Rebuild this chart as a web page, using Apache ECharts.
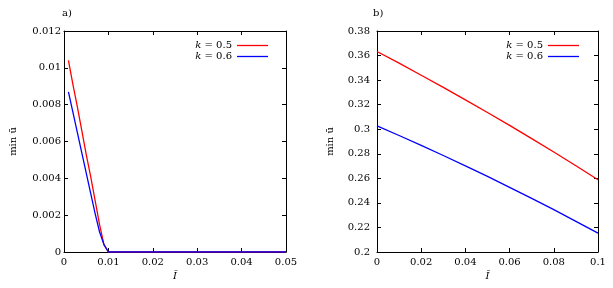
<!DOCTYPE html>
<html><head><meta charset="utf-8">
<script src="https://cdn.jsdelivr.net/npm/echarts@6/dist/echarts.min.js"></script>
<style>html,body{margin:0;padding:0;background:#fff}#c{width:613px;height:288px}</style>
</head><body><div id="c"></div>
<script>
// ---- data ----
const seriesNames = ['k = 0.5', 'k = 0.6'];
const panelLabels = ['a)', 'b)'];
const xAxisName = 'Ī';
const yAxisName = 'min ū';

const leftX    = [0.001, 0.002, 0.003, 0.004, 0.005, 0.006, 0.007, 0.008, 0.009, 0.010, 0.02, 0.03, 0.04, 0.05];
const leftRed  = [0.0104, 0.0091, 0.0079, 0.0066, 0.0053, 0.0041, 0.0028, 0.0015, 0.0004, 0.0, 0, 0, 0, 0];
const leftBlue = [0.0087, 0.0076, 0.0065, 0.0054, 0.0043, 0.0032, 0.0021, 0.0011, 0.0004, 0.0, 0, 0, 0, 0];

const rightX    = [0, 0.01, 0.02, 0.03, 0.04, 0.05, 0.06, 0.07, 0.08, 0.09, 0.10];
const rightRed  = [0.3633, 0.3538, 0.3440, 0.3341, 0.3239, 0.3136, 0.3031, 0.2923, 0.2814, 0.2702, 0.2589];
const rightBlue = [0.3027, 0.2949, 0.2868, 0.2786, 0.2702, 0.2616, 0.2527, 0.2437, 0.2345, 0.2250, 0.2154];

const leftXTicks  = ['0', '0.01', '0.02', '0.03', '0.04', '0.05'];
const leftYTicks  = ['0', '0.002', '0.004', '0.006', '0.008', '0.01', '0.012'];
const rightXTicks = ['0', '0.02', '0.04', '0.06', '0.08', '0.1'];
const rightYTicks = ['0.2', '0.22', '0.24', '0.26', '0.28', '0.3', '0.32', '0.34', '0.36', '0.38'];

// ---- chart ----
const FONT = 'DejaVu Serif';
const pairs = (xs, ys) => xs.map((x, i) => [x, ys[i]]);

function axis(type, grid, pos, min, max, interval, labels, margin, name, nameGap) {
  const a = {
    type: 'value', gridIndex: grid, position: pos, min: min, max: max, interval: interval,
    axisLine: { show: true, onZero: false, lineStyle: { color: '#000', width: 1 } },
    axisTick: { show: true, inside: true, length: 4, lineStyle: { color: '#000', width: 1 } },
    splitLine: { show: false },
    axisLabel: { show: !!labels, margin: margin, color: '#000', fontFamily: FONT, fontSize: 10,
      formatter: labels ? (v, i) => labels[i] : undefined }
  };
  if (name) {
    a.name = name; a.nameLocation = 'middle'; a.nameGap = nameGap;
    a.nameTextStyle = { fontFamily: FONT, fontSize: 10, color: '#000', fontStyle: type === 'x' ? 'italic' : 'normal' };
    if (type === 'y') a.nameRotate = 90;
  }
  return a;
}

const chart = echarts.init(document.getElementById('c'), null, { renderer: 'canvas' });
const legendBase = {
  orient: 'vertical', align: 'right', itemWidth: 31, itemHeight: 11, itemGap: 0,
  icon: 'path://M0,0 L31,0 L31,1.3 L0,1.3 Z',
  data: seriesNames,
  formatter: n => n.replace('k', '{i|k}'),
  textStyle: { fontFamily: FONT, fontSize: 10, color: '#000', lineHeight: 11,
    rich: { i: { fontStyle: 'italic', fontFamily: FONT, fontSize: 10 } } }
};
const lineSeries = (name, xi, yi, data, color) => ({
  name: name, type: 'line', xAxisIndex: xi, yAxisIndex: yi, data: data,
  symbol: 'none', showSymbol: false, animation: false,
  lineStyle: { color: color, width: 1.3 }, itemStyle: { color: color }
});

chart.setOption({
  animation: false,
  grid: [
    { left: 64, top: 31, width: 222, height: 221 },
    { left: 377, top: 31, width: 221, height: 221 }
  ],
  xAxis: [
    axis('x', 0, 'bottom', 0, 0.05, 0.01, leftXTicks, 5, xAxisName, 18),
    axis('x', 0, 'top', 0, 0.05, 0.01, null, 0),
    axis('x', 1, 'bottom', 0, 0.1, 0.02, rightXTicks, 5, xAxisName, 18),
    axis('x', 1, 'top', 0, 0.1, 0.02, null, 0)
  ],
  yAxis: [
    axis('y', 0, 'left', 0, 0.012, 0.002, leftYTicks, 3, yAxisName, 46),
    axis('y', 0, 'right', 0, 0.012, 0.002, null, 0),
    axis('y', 1, 'left', 0.2, 0.38, 0.02, rightYTicks, 7, yAxisName, 42),
    axis('y', 1, 'right', 0.2, 0.38, 0.02, null, 0)
  ],
  legend: [
    Object.assign({ right: 340, top: 35 }, legendBase),
    Object.assign({ right: 29, top: 35 }, legendBase)
  ],
  graphic: [
    { type: 'text', left: 62, top: 8, style: { text: panelLabels[0], font: '10px "DejaVu Serif"', fill: '#000' } },
    { type: 'text', left: 373, top: 8, style: { text: panelLabels[1], font: '10px "DejaVu Serif"', fill: '#000' } }
  ],
  series: [
    lineSeries(seriesNames[0], 0, 0, pairs(leftX, leftRed), '#ff0000'),
    lineSeries(seriesNames[1], 0, 0, pairs(leftX, leftBlue), '#0000ff'),
    lineSeries(seriesNames[0], 2, 2, pairs(rightX, rightRed), '#ff0000'),
    lineSeries(seriesNames[1], 2, 2, pairs(rightX, rightBlue), '#0000ff')
  ]
});
</script>
</body></html>
